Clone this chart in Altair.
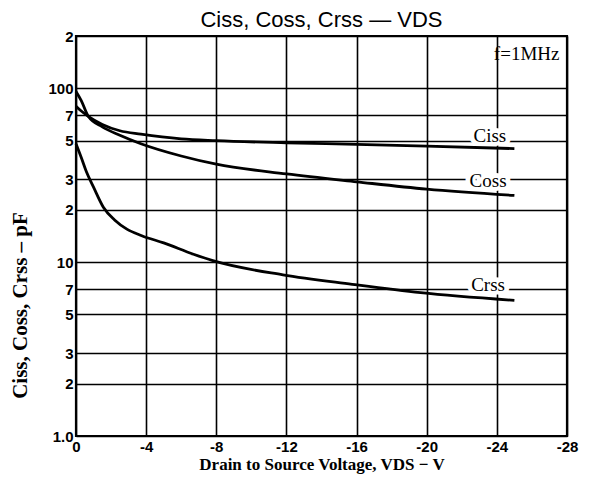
import altair as alt
import pandas as pd

# Curve data (V_DS in volts, capacitance in pF)
ciss_v = [0, -0.3, -0.7, -1.5, -2.5, -3.7, -6, -8, -12, -16, -20, -25]
ciss_c = [79, 74, 69, 62, 57, 54.5, 51.2, 50, 48.6, 47.6, 46.5, 45]
coss_v = [0, -0.3, -0.7, -1.5, -2.5, -3.7, -6, -8, -12, -16, -20, -25]
coss_c = [96, 85, 69, 60, 53.7, 48, 40.8, 36.6, 32.2, 29, 26.3, 24.2]
crss_v = [0, -0.3, -0.6, -1, -1.56, -2.2, -2.9, -3.75, -5, -6.7, -7.8, -11.8, -15.75, -19.65, -25]
crss_c = [48, 40, 33, 27, 20.7, 17.5, 15.5, 14.2, 12.9, 11.1, 10.2, 8.45, 7.46, 6.68, 6.03]

x_ticks = [0, -4, -8, -12, -16, -20, -24, -28]
y_ticks = [1, 2, 3, 5, 7, 10, 20, 30, 50, 70, 100, 200]
y_tick_labels = ["1.0", "2", "3", "5", "7", "10", "2", "3", "5", "7", "100", "2"]

label_text = ["Ciss", "Coss", "Crss", "f=1MHz"]
label_v = [-23.6, -23.5, -23.5, -25.7]
label_c = [53.5, 29.4, 7.36, 157]

rows = []
for name, vs, cs in [("Ciss", ciss_v, ciss_c), ("Coss", coss_v, coss_c), ("Crss", crss_v, crss_c)]:
    for i, (v, c) in enumerate(zip(vs, cs)):
        rows.append({"series": name, "V": v, "C": c, "ord": i})
df = pd.DataFrame(rows)
lab = pd.DataFrame({"text": label_text, "V": label_v, "C": label_c})

y_expr = "[" + ",".join("'%s'" % s for s in y_tick_labels) + "][indexof([" + ",".join(str(t) for t in y_ticks) + "], datum.value)]"

xscale = alt.Scale(domain=[0, -28], nice=False, zero=False)
yscale = alt.Scale(type="log", domain=[1, 200], nice=False)

xenc = alt.X("V:Q", scale=xscale, axis=alt.Axis(
    values=x_ticks, labelExpr="datum.value == 0 ? '0' : '-' + abs(datum.value)",
    title="Drain to Source Voltage, VDS \u2212 V", grid=True, ticks=False, domain=False,
    labelFont="Liberation Sans", labelFontWeight="bold", labelFontSize=15, labelColor="black",
    labelPadding=3, titleFont="Liberation Serif", titleFontWeight="bold", titleFontSize=17,
    titleColor="black", titlePadding=2, labelFlush=False))
yenc = alt.Y("C:Q", scale=yscale, axis=alt.Axis(
    values=y_ticks, labelExpr=y_expr, title="Ciss, Coss, Crss \u2013 pF", grid=True, ticks=False,
    domain=False, labelFont="Liberation Sans", labelFontWeight="bold", labelFontSize=15,
    labelColor="black", labelPadding=3, titleFont="Liberation Serif", titleFontWeight="bold",
    titleFontSize=21, titleColor="black", titleX=-56, titleY=269, titleBaseline="middle",
    titleAlign="center", titleAngle=270, labelFlush=False))

lines = alt.Chart(df).mark_line(color="black", strokeWidth=2.8, interpolate="monotone").encode(
    x=xenc, y=yenc, detail="series:N", order="ord:Q")

halo = alt.Chart(lab).transform_filter("datum.text != 'f=1MHz'").mark_text(
    font="Liberation Serif", fontSize=20, stroke="white", strokeWidth=8, color="white",
    baseline="middle", align="center").encode(
    x=alt.X("V:Q", scale=xscale), y=alt.Y("C:Q", scale=yscale), text="text:N")
texts = alt.Chart(lab).mark_text(font="Liberation Serif", fontSize=19, color="black",
                                 baseline="middle", align="center").encode(
    x=alt.X("V:Q", scale=xscale), y=alt.Y("C:Q", scale=yscale), text="text:N")

chart = alt.layer(lines, halo, texts).properties(
    width=491, height=400,
    title=alt.TitleParams("Ciss, Coss, Crss \u2014 VDS", font="Liberation Sans", fontSize=22,
                          fontWeight="normal", color="black", anchor="middle", offset=-3),
    autosize=alt.AutoSizeParams(type="none"),
    padding={"left": 68, "top": 28, "right": 15, "bottom": 40},
).configure_axis(gridColor="black", gridWidth=1.6, gridOpacity=1).configure_view(
    stroke="black", strokeWidth=2.2)

chart.save("out.html", embed_options={"renderer": "svg", "actions": False})
